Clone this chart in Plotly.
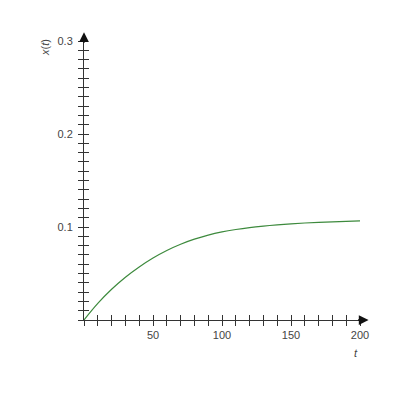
import plotly.graph_objects as go

# values
t_vals = [0, 10, 20, 30, 40, 50, 60, 70, 80, 90, 100,
          110, 120, 130, 140, 150, 160, 170, 180, 190, 200]
x_vals = [0.0, 0.0178, 0.0330, 0.0460, 0.0571, 0.0667, 0.0748, 0.0815,
          0.0869, 0.0913, 0.0947, 0.0973, 0.0994, 0.1010, 0.1023, 0.1034,
          0.1043, 0.1050, 0.1056, 0.1061, 0.1065]

x_ticks = [50, 100, 150, 200]
y_ticks = [0.1, 0.2, 0.3]

axis_color = "#333333"
label_color = "#444444"
font_family = "Liberation Sans, Arial"


def main():
    fig = go.Figure()

    fig.add_trace(go.Scatter(
        x=t_vals,
        y=x_vals,
        mode="lines",
        line=dict(color="#3d8a3d", width=1.2, shape="spline"),
        showlegend=False,
        hoverinfo="skip",
    ))

    common = dict(
        showgrid=False,
        zeroline=False,
        showline=True,
        linecolor=axis_color,
        linewidth=1,
        ticks="outside",
        ticklen=5,
        tickwidth=1,
        tickcolor=axis_color,
        tickfont=dict(family=font_family, size=11, color=label_color),
    )

    # the page body adds an 8px offset, margins allow for it
    fig.update_layout(
        width=400,
        height=400,
        margin=dict(l=76, r=48, t=33, b=88),
        plot_bgcolor="white",
        paper_bgcolor="white",
        xaxis=dict(
            range=[0, 200],
            tickmode="array",
            tickvals=x_ticks,
            minor=dict(dtick=10, tick0=0, ticks="outside", ticklen=5,
                       tickcolor=axis_color, tickwidth=1),
            **common,
        ),
        yaxis=dict(
            range=[0, 0.3],
            tickmode="array",
            tickvals=y_ticks,
            ticklabelstandoff=3,
            minor=dict(dtick=0.01, tick0=0, ticks="outside", ticklen=5,
                       tickcolor=axis_color, tickwidth=1),
            **common,
        ),
        # overlay axes give the inside half of each crossing tick
        xaxis2=dict(
            overlaying="x", anchor="y", matches="x", range=[0, 200],
            showgrid=False, zeroline=False, showticklabels=False,
            tickmode="linear", tick0=0, dtick=10,
            ticks="inside", ticklen=5, tickcolor=axis_color, tickwidth=1,
        ),
        yaxis2=dict(
            overlaying="y", anchor="x", matches="y", range=[0, 0.3],
            showgrid=False, zeroline=False, showticklabels=False,
            tickmode="linear", tick0=0, dtick=0.01,
            ticks="inside", ticklen=5, tickcolor=axis_color, tickwidth=1,
        ),
    )

    # dummy trace so the overlay axes get drawn
    fig.add_trace(go.Scatter(x=[None], y=[None], xaxis="x2", yaxis="y2",
                             showlegend=False, hoverinfo="skip"))

    # arrow heads at the ends of the axes (paper refs so they are not hidden)
    fig.add_annotation(x=1.031, y=0, xref="paper", yref="paper", ax=-12, ay=0,
                       showarrow=True, arrowhead=2, arrowsize=1.3,
                       arrowwidth=1.5, arrowcolor="#111111", text="",
                       standoff=0, startstandoff=0)
    fig.add_annotation(x=0, y=1.031, xref="paper", yref="paper", ax=0, ay=12,
                       showarrow=True, arrowhead=2, arrowsize=1.3,
                       arrowwidth=1.5, arrowcolor="#111111", text="",
                       standoff=0, startstandoff=0)

    # axis titles
    fig.add_annotation(x=200, y=0, xref="x", yref="y", yshift=-33, xshift=-4,
                       text="<i>t</i>", showarrow=False,
                       font=dict(family=font_family, size=11, color=label_color))
    fig.add_annotation(x=0, y=0.3, xref="x", yref="y", xshift=-39, yshift=-7,
                       text="<i>x</i>(<i>t</i>)", textangle=-90, showarrow=False,
                       font=dict(family=font_family, size=11, color=label_color))

    fig.write_html("out.html")


if __name__ == "__main__":
    main()
